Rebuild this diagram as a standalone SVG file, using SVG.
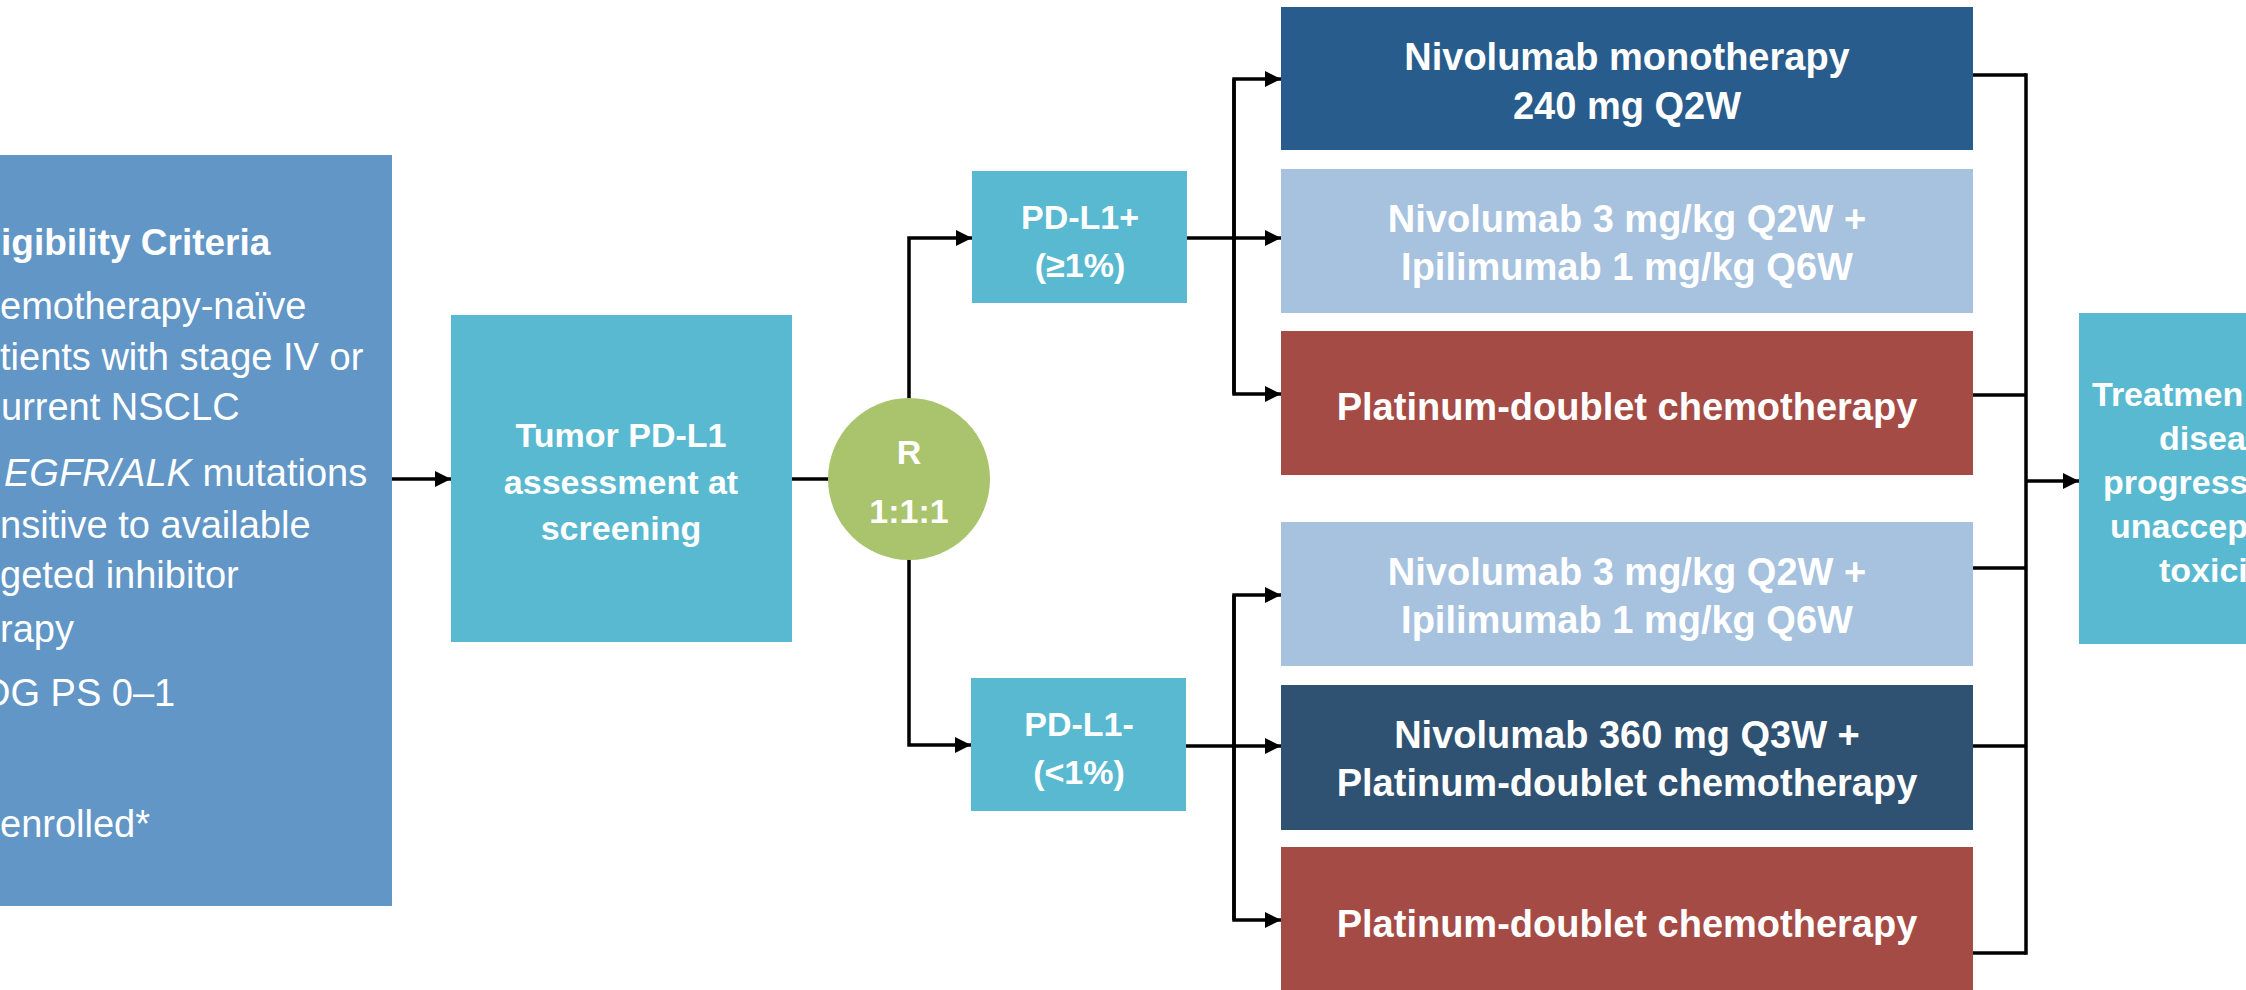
<svg xmlns="http://www.w3.org/2000/svg" width="2246" height="990" viewBox="0 0 2246 990">
<defs>
<style>
text{font-family:"Liberation Sans",Arial,sans-serif;fill:#ffffff}
.b{font-weight:bold}
.t38{font-size:38px;font-weight:bold;text-anchor:middle}
.t34{font-size:34px;font-weight:bold;text-anchor:middle}
.elig{font-size:38px}
.conn{fill:none;stroke:#000000;stroke-width:3.5}
</style>
<marker id="ah" markerUnits="userSpaceOnUse" markerWidth="17" markerHeight="16" refX="16" refY="8" orient="auto">
<path d="M0,0 L16,8 L0,16 z" fill="#000000"/>
</marker>
</defs>
<rect width="2246" height="990" fill="#ffffff"/>
<g id="connectors">
<line class="conn" x1="392" y1="479" x2="451" y2="479" marker-end="url(#ah)"/>
<line class="conn" x1="792" y1="479" x2="830" y2="479"/>
<polyline class="conn" points="909,400 909,238 972,238" marker-end="url(#ah)"/>
<polyline class="conn" points="909,558 909,745 971,745" marker-end="url(#ah)"/>
<line class="conn" x1="1187" y1="238" x2="1281" y2="238" marker-end="url(#ah)"/>
<polyline class="conn" points="1234,394 1234,79 1281,79" marker-end="url(#ah)"/>
<polyline class="conn" points="1234,79 1234,394 1281,394" marker-end="url(#ah)"/>
<line class="conn" x1="1186" y1="746" x2="1281" y2="746" marker-end="url(#ah)"/>
<polyline class="conn" points="1234,920 1234,595 1281,595" marker-end="url(#ah)"/>
<polyline class="conn" points="1234,595 1234,920 1281,920" marker-end="url(#ah)"/>
<line class="conn" x1="1973" y1="75" x2="2026" y2="75"/>
<line class="conn" x1="1973" y1="395" x2="2026" y2="395"/>
<line class="conn" x1="1973" y1="568" x2="2026" y2="568"/>
<line class="conn" x1="1973" y1="746" x2="2026" y2="746"/>
<line class="conn" x1="1973" y1="953" x2="2026" y2="953"/>
<line class="conn" x1="2026" y1="73.25" x2="2026" y2="954.75"/>
<line class="conn" x1="2026" y1="481" x2="2079" y2="481" marker-end="url(#ah)"/>
</g>
<g id="eligibility">
<rect x="-300" y="155" width="692" height="751" fill="#6196C7"/>
<text class="b" x="1" y="255" font-size="37">igibility Criteria</text>
<text class="elig" x="0" y="319">emotherapy-naïve</text>
<text class="elig" x="0" y="370">tients with stage IV or</text>
<text class="elig" x="1" y="420">urrent NSCLC</text>
<text class="elig" x="4" y="486"><tspan font-style="italic">EGFR/ALK</tspan> mutations</text>
<text class="elig" x="0" y="538">nsitive to available</text>
<text class="elig" x="0" y="588">geted inhibitor</text>
<text class="elig" x="0" y="642">rapy</text>
<text class="elig" x="-17" y="706">DG PS 0–1</text>
<text class="elig" x="0" y="837">enrolled*</text>
</g>
<g id="tumor">
<rect x="451" y="315" width="341" height="327" fill="#59B9D1"/>
<text class="t34" x="621" y="447">Tumor PD-L1</text>
<text class="t34" x="621" y="494">assessment at</text>
<text class="t34" x="621" y="540">screening</text>
</g>
<g id="randomize">
<circle cx="909" cy="479" r="81" fill="#AAC46D"/>
<text class="t34" x="909" y="464">R</text>
<text class="t34" x="909" y="523">1:1:1</text>
</g>
<g id="pdl1pos">
<rect x="972" y="171" width="215" height="132" fill="#59B9D1"/>
<text class="t34" x="1080" y="229">PD-L1+</text>
<text class="t34" x="1080" y="277">(≥1%)</text>
</g>
<g id="pdl1neg">
<rect x="971" y="678" width="215" height="133" fill="#59B9D1"/>
<text class="t34" x="1079" y="736">PD-L1-</text>
<text class="t34" x="1079" y="784">(&lt;1%)</text>
</g>
<g id="arm1">
<rect x="1281" y="7" width="692" height="143" fill="#285C8D"/>
<text class="t38" x="1627" y="70">Nivolumab monotherapy</text>
<text class="t38" x="1627" y="119">240 mg Q2W</text>
</g>
<g id="arm2">
<rect x="1281" y="169" width="692" height="144" fill="#A6C2DF"/>
<text class="t38" x="1627" y="232">Nivolumab 3 mg/kg Q2W +</text>
<text class="t38" x="1627" y="280">Ipilimumab 1 mg/kg Q6W</text>
</g>
<g id="arm3">
<rect x="1281" y="331" width="692" height="144" fill="#A54B45"/>
<text class="t38" x="1627" y="420">Platinum-doublet chemotherapy</text>
</g>
<g id="arm4">
<rect x="1281" y="522" width="692" height="144" fill="#A6C2DF"/>
<text class="t38" x="1627" y="585">Nivolumab 3 mg/kg Q2W +</text>
<text class="t38" x="1627" y="633">Ipilimumab 1 mg/kg Q6W</text>
</g>
<g id="arm5">
<rect x="1281" y="685" width="692" height="145" fill="#2F5273"/>
<text class="t38" x="1627" y="748">Nivolumab 360 mg Q3W +</text>
<text class="t38" x="1627" y="796">Platinum-doublet chemotherapy</text>
</g>
<g id="arm6">
<rect x="1281" y="847" width="692" height="150" fill="#A54B45"/>
<text class="t38" x="1627" y="937">Platinum-doublet chemotherapy</text>
</g>
<g id="treatment">
<rect x="2079" y="313" width="300" height="331" fill="#59B9D1"/>
<text class="b" font-size="34" x="2092" y="406">Treatmen</text>
<text class="b" font-size="34" x="2159" y="450">disea</text>
<text class="b" font-size="34" x="2103" y="494">progressi</text>
<text class="b" font-size="34" x="2110" y="538">unaccep</text>
<text class="b" font-size="34" x="2159" y="582">toxici</text>
</g>
</svg>
